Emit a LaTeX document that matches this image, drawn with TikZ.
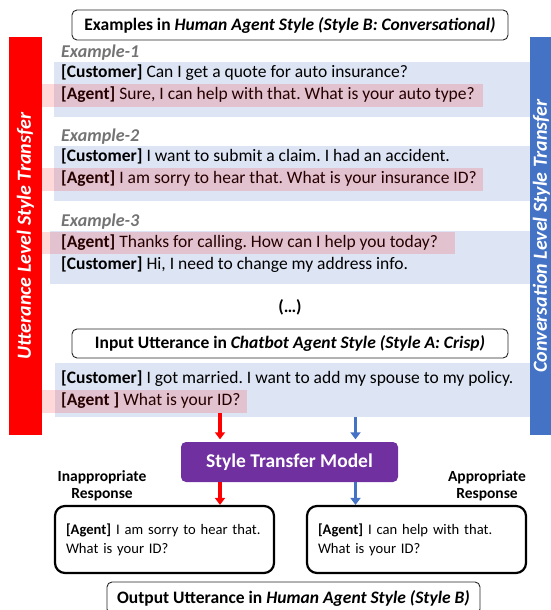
\documentclass[tikz,border=0pt]{standalone}
\usepackage{fontspec}
\setmainfont{Carlito}
\usepackage{tikz}
\usetikzlibrary{arrows.meta}

\definecolor{panelblue}{HTML}{DDE4F3}
\definecolor{barblue}{HTML}{4472C4}
\definecolor{modelpurple}{HTML}{7030A0}

\frenchspacing
\begin{document}
\begin{tikzpicture}[x=1pt,y=-1pt,>={Triangle[width=10pt,length=7pt]},
font=\fontsize{17.5}{21}\selectfont]
\tikzstyle{line}=[anchor=west,inner sep=0pt,text height=12pt,text depth=3.5pt]
\tikzstyle{exname}=[line,text=black!55,font=\fontsize{18}{21}\selectfont\bfseries\itshape]
\tikzstyle{panel}=[fill=panelblue,inner sep=0pt,anchor=north west]
\tikzstyle{hilite}=[fill=red,fill opacity=0.15,inner sep=0pt,anchor=north west]
\tikzstyle{headbox}=[draw=black!85,line width=0.9pt,rounded corners=5pt,fill=white,
minimum width=436pt,minimum height=30pt,inner sep=0pt,font=\fontsize{17.5}{21}\selectfont\bfseries]
\tikzstyle{sidebar}=[rotate=90,inner sep=0pt,minimum width=398pt,text=white,
font=\fontsize{20}{24}\selectfont\bfseries\itshape]
\tikzstyle{answer}=[draw=black,line width=2.2pt,rounded corners=10pt,minimum width=219pt,
minimum height=67pt,text width=197pt,align=left,inner sep=0pt,font=\fontsize{14.6}{19}\selectfont]
\tikzstyle{answerlabel}=[align=center,inner sep=0pt,font=\fontsize{15.5}{17}\selectfont\bfseries]
\tikzstyle{redarrow}=[->,draw=red,line width=3.5pt]
\tikzstyle{bluearrow}=[->,draw=barblue,line width=3.5pt]

\useasboundingbox (0,0) rectangle (551,610);
\clip (0,0) rectangle (551,610);

\node[sidebar,fill=red,minimum height=33pt]    (UL) at (25.5,236)  {Utterance Level Style Transfer};
\node[sidebar,fill=barblue,minimum height=23pt] (CL) at (541.5,236) {Conversation Level Style Transfer};

\node[headbox] (EX) at (290,25) {Examples in \textit{Human Agent Style (Style B: Conversational)}};

\begin{scope}
\node[panel,minimum width=476pt,minimum height=55pt] (p1) at (54,62) {};
\node[exname] (e1)  at (61,53) {Example-1};
\node[line]   (cu1) at (61,73) {\textbf{[Customer]} Can I get a quote for auto insurance?};
\node[line]   (ag1) at ([yshift=-22pt]cu1.west) {\textbf{[Agent]} Sure, I can help with that. What is your auto type?};
\node[hilite,minimum width=441pt,minimum height=23pt] (hl1) at (42,84) {};
\end{scope}

\begin{scope}[yshift=-84pt]
\node[panel,minimum width=476pt,minimum height=55pt] (p2) at (54,62) {};
\node[exname] (e2)  at (61,53) {Example-2};
\node[line]   (cu2) at (61,73) {\textbf{[Customer]} I want to submit a claim. I had an accident.};
\node[line]   (ag2) at ([yshift=-22pt]cu2.west) {\textbf{[Agent]} I am sorry to hear that. What is your insurance ID?};
\node[hilite,minimum width=441pt,minimum height=23pt] (hl2) at (42,84) {};
\end{scope}

\begin{scope}[yshift=-169pt]
\node[panel,minimum width=480pt,minimum height=53pt] (p3) at (50,62) {};
\node[exname] (e3)  at (61,53) {Example-3};
\node[line]   (ag3) at (61,74) {\textbf{[Agent]} Thanks for calling. How can I help you today?};
\node[line]   (cu3) at ([yshift=-22pt]ag3.west) {\textbf{[Customer]} Hi, I need to change my address info.};
\node[hilite,minimum width=413pt,minimum height=22pt] (hl3) at (42,63) {};
\end{scope}

\node[font=\fontsize{17.5}{21}\selectfont\bfseries] (more) at (290,307) {(…)};

\node[headbox,minimum height=29pt] (IN) at (290,343.5) {Input Utterance in \textit{Chatbot Agent Style (Style A: Crisp)}};
\node[panel,minimum width=475pt,minimum height=54pt] (p4) at (55,363) {};
\node[line] (cu4) at (61,379) {\textbf{[Customer]} I got married. I want to add my spouse to my policy.};
\node[line] (ag4) at ([yshift=-22pt]cu4.west) {\textbf{[Agent ]} What is your ID?};
\node[hilite,minimum width=205pt,minimum height=23pt] (hl4) at (42,390) {};

\node[fill=modelpurple,rounded corners=5pt,minimum width=217pt,minimum height=40pt,
text=white,font=\fontsize{19.5}{23}\selectfont\bfseries] (model) at (289.5,462) {Style Transfer Model};

\node[answerlabel] (badlab)  at (102,485.5) {Inappropriate\\Response};
\node[answerlabel] (goodlab) at (487,485.5) {Appropriate\\Response};

\node[answer] (bad)  at (164.5,539.5) {\textbf{[Agent]} I am sorry to hear that.\\What is your ID?};
\node[answer] (good) at (416.5,539.5) {\textbf{[Agent]} I can help with that.\\What is your ID?};

\node[headbox,minimum width=373pt,minimum height=32pt] (OUT) at (293.5,598) {Output Utterance in \textit{Human Agent Style (Style B)}};

\coordinate (rx) at (220,0);
\coordinate (bx) at (355.5,0);
\draw[redarrow,shorten >=2.5pt]  (hl4.south -| rx) -- (model.north -| rx);
\draw[bluearrow,shorten >=2.5pt] (p4.south -| bx)  -- (model.north -| bx);
\draw[redarrow]  (model.south -| rx) -- (bad.north -| rx);
\draw[bluearrow] (model.south -| bx) -- (good.north -| bx);
\end{tikzpicture}
\end{document}
